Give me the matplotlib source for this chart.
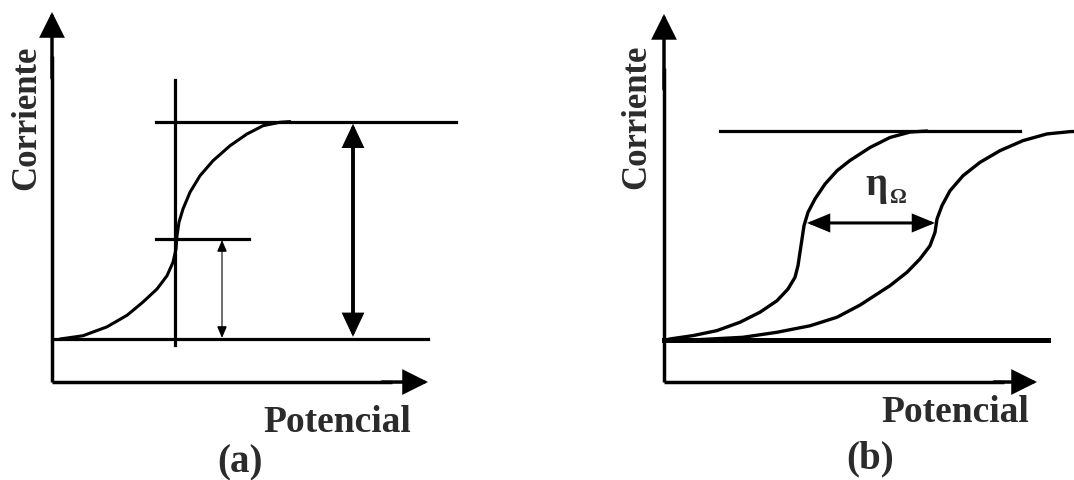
import matplotlib
matplotlib.use("Agg")
import matplotlib.pyplot as plt

W, H, DPI = 1074, 481, 100

# ---- panel (a): single polarographic wave (potential vs. normalised current)
pot_a = [0.08, 0.31, 0.55, 0.75, 0.91, 1.05, 1.15, 1.21, 1.24, 1.25, 1.27,
         1.31, 1.38, 1.48, 1.61, 1.78, 1.95, 2.11, 2.28, 2.38]
cur_a = [0.0, 0.015, 0.056, 0.109, 0.170, 0.230, 0.291, 0.353, 0.414, 0.475,
         0.537, 0.598, 0.675, 0.751, 0.820, 0.889, 0.943, 0.981, 0.997, 1.0]
i_lim_a = 1.0          # limiting current level
i_half_a = 0.46        # half-wave current level
e_half_a = 1.23        # half-wave potential

# ---- panel (b): wave without and with ohmic drop
pot_b1 = [0.02, 0.06, 0.29, 0.53, 0.76, 0.96, 1.13, 1.24, 1.31, 1.34, 1.36,
          1.38, 1.40, 1.44, 1.51, 1.61, 1.73, 1.86, 2.06, 2.26, 2.46, 2.63]
cur_b1 = [0.0, 0.005, 0.021, 0.045, 0.085, 0.133, 0.188, 0.244, 0.300, 0.356,
          0.420, 0.483, 0.547, 0.611, 0.675, 0.746, 0.810, 0.859, 0.921,
          0.969, 0.995, 1.0]
pot_b2 = [0.04, 0.36, 0.79, 1.13, 1.46, 1.73, 1.96, 2.26, 2.43, 2.56, 2.66,
          2.71, 2.73, 2.78, 2.86, 2.99, 3.16, 3.36, 3.59, 3.83, 4.06, 4.26]
cur_b2 = [0.0, 0.002, 0.013, 0.037, 0.068, 0.109, 0.167, 0.260, 0.324, 0.388,
          0.451, 0.515, 0.579, 0.643, 0.714, 0.786, 0.850, 0.906, 0.954,
          0.986, 0.997, 1.0]
i_lim_b = 1.0
eta_level = 0.56                 # current at which the ohmic shift is shown
eta_from, eta_to = 1.43, 2.71    # potentials bounding the shift

y_label = "Corriente"
x_label = "Potencial"
tags = ["(a)", "(b)"]
eta_sym, eta_sub = "η", "Ω"

INK = "#2b2b2b"
SERIF = ["Liberation Serif", "DejaVu Serif"]

fig = plt.figure(figsize=(W / DPI, H / DPI), dpi=DPI)
fig.patch.set_facecolor("white")


def panel(px0, px1, origin_px, base_py, sx, sy):
    """Axes spanning pixels px0..px1 (full height) whose data origin
    (E=0, I=0) sits at (origin_px, base_py), sx/sy pixels per unit."""
    ax = fig.add_axes([px0 / W, 0, (px1 - px0) / W, 1])
    ax.set_xlim((px0 - origin_px) / sx, (px1 - origin_px) / sx)
    ax.set_ylim((base_py - H) / sy, base_py / sy)
    ax.axis("off")
    return ax


def arrow(ax, p0, p1, style, ms, lw):
    ax.annotate("", xy=p1, xytext=p0,
                arrowprops=dict(arrowstyle=style, mutation_scale=ms, lw=lw,
                                color="black", shrinkA=0, shrinkB=0,
                                joinstyle="miter"),
                annotation_clip=False)


axis_style = "-|>,head_length=1.0,head_width=0.5"

# ================= panel (a) =================
ax = panel(0, 537, 52, 340, 100, 217.4)
x_axis_i = -0.198
# coordinate axes
ax.plot([0, 0], [x_axis_i, 1.3], color="black", lw=2.5, solid_capstyle="butt")
arrow(ax, (0, 1.2), (0, 1.504), axis_style, 14.5, 2.5)
ax.plot([0, 3.4], [x_axis_i, x_axis_i], color="black", lw=2.5,
        solid_capstyle="butt")
arrow(ax, (3.3, x_axis_i), (3.76, x_axis_i), axis_style, 14.5, 2.5)
# reference lines
ax.plot([0.03, 3.76], [0, 0], color="black", lw=2.3)
ax.plot([1.04, 4.04], [i_lim_a, i_lim_a], color="black", lw=2.3)
ax.plot([1.04, 1.97], [i_half_a, i_half_a], color="black", lw=2.3)
ax.plot([e_half_a, e_half_a], [-0.028, 1.191], color="black", lw=2.3)
# the wave
ax.plot(pot_a, cur_a, color="black", lw=2.2, solid_joinstyle="round",
        solid_capstyle="round")
# current arrows
arrow(ax, (1.70, 0.005), (1.70, i_half_a - 0.005),
      "<|-|>,head_length=0.7,head_width=0.3", 10, 0.8)
arrow(ax, (3.01, 0.01), (3.01, i_lim_a - 0.01),
      "<|-|>,head_length=0.85,head_width=0.4", 15, 2.8)
# labels
ax.text(-0.25, 1.02, y_label, rotation=90, ha="center", va="center",
        fontsize=25, fontweight="bold", family=SERIF, color=INK)
ax.text(2.85, -0.423, x_label, ha="center", va="baseline",
        fontsize=27, fontweight="bold", family=SERIF, color=INK)
ax.text(1.88, -0.607, tags[0], ha="center", va="baseline",
        fontsize=28, fontweight="bold", family=SERIF, color=INK)

# ================= panel (b) =================
bx = panel(537, 1074, 664, 341, 100, 209)
x_axis_i = -0.201
bx.plot([0, 0], [x_axis_i, 1.3], color="black", lw=2.5, solid_capstyle="butt")
arrow(bx, (0, 1.2), (0, 1.56), axis_style, 14.5, 2.5)
bx.plot([0, 3.4], [x_axis_i, x_axis_i], color="black", lw=2.5,
        solid_capstyle="butt")
arrow(bx, (3.3, x_axis_i), (3.73, x_axis_i), axis_style, 14.5, 2.5)
# baseline and limiting current
bx.plot([0.0, 3.84], [0, 0], color="black", lw=3.6)
bx.plot([0.56, 3.56], [i_lim_b, i_lim_b], color="black", lw=2.3)
# the two waves
bx.plot(pot_b1, cur_b1, color="black", lw=2.4, solid_joinstyle="round",
        solid_capstyle="round")
bx.plot(pot_b2, cur_b2, color="black", lw=2.4, solid_joinstyle="round",
        solid_capstyle="round")
# ohmic shift
arrow(bx, (eta_from, eta_level), (eta_to, eta_level),
      "<|-|>,head_length=0.85,head_width=0.35", 15, 2.2)
bx.text(2.125, 0.699, eta_sym, ha="center", va="baseline",
        fontsize=28, fontweight="bold", family=SERIF, color=INK)
bx.text(2.26, 0.662, eta_sub, ha="left", va="baseline",
        fontsize=15, fontweight="bold", family=SERIF, color=INK)
# labels
bx.text(-0.27, 1.072, y_label, rotation=90, ha="center", va="center",
        fontsize=25, fontweight="bold", family=SERIF, color=INK)
bx.text(2.91, -0.388, x_label, ha="center", va="baseline",
        fontsize=27, fontweight="bold", family=SERIF, color=INK)
bx.text(2.06, -0.608, tags[1], ha="center", va="baseline",
        fontsize=28, fontweight="bold", family=SERIF, color=INK)

fig.savefig("out.png", dpi=DPI, facecolor="white")
